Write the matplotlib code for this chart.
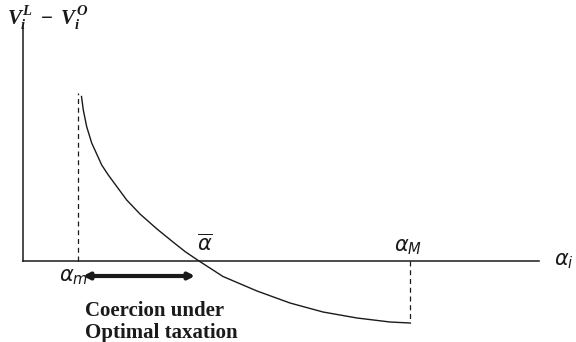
import matplotlib
matplotlib.use("Agg")
import matplotlib.pyplot as plt

# utility difference V_i^L - V_i^O against alpha_i
alpha = [0.585, 0.603, 0.637, 0.687, 0.787, 0.853, 1.037, 1.17, 1.34, 1.50,
         1.62, 1.76, 2.00, 2.34, 2.67, 3.00, 3.34, 3.67, 3.87]
dv = [1.645, 1.51, 1.343, 1.18, 0.96, 0.86, 0.61, 0.47, 0.32, 0.19,
      0.095, 0.0, -0.155, -0.30, -0.42, -0.51, -0.57, -0.61, -0.62]
alpha_m = 0.55
alpha_bar = 1.76
alpha_M = 3.87
dv_top = 1.68

ink = "#1a1a1a"
plt.rcParams["mathtext.fontset"] = "custom"
plt.rcParams["mathtext.it"] = "Liberation Serif:italic:bold"
plt.rcParams["mathtext.rm"] = "Liberation Serif:bold"

fig = plt.figure(figsize=(5.76, 3.42), dpi=100)
ax = fig.add_axes([0, 0, 1, 1])
ax.set_xlim(-0.23, 5.53)
ax.set_ylim(-0.81, 2.61)
ax.axis("off")

# axes drawn by hand
ax.plot([0, 5.16], [0, 0], color=ink, lw=1.1)
ax.plot([0, 0], [0, 2.34], color=ink, lw=1.1)

ax.plot(alpha, dv, color=ink, lw=1.0, solid_joinstyle="round")
ax.plot([alpha_m, alpha_m], [0, dv_top], color=ink, lw=0.9, ls=(0, (4, 3)))
ax.plot([alpha_M, alpha_M], [0, dv[-1]], color=ink, lw=0.9, ls=(0, (4, 3)))

ax.annotate("", xy=(0.60, -0.15), xytext=(alpha_bar - 0.04, -0.15),
            arrowprops=dict(arrowstyle="<|-|>,head_length=0.35,head_width=0.18",
                            color=ink, lw=3, shrinkA=0, shrinkB=0))

ax.text(-0.16, 2.56, r"$V_i^L\ -\ V_i^O$", fontsize=15, color=ink,
        ha="left", va="top", math_fontfamily="custom")
ax.text(5.41, 0, r"$\alpha_i$", fontsize=15, color=ink, ha="center",
        va="center", math_fontfamily="dejavusans")
ax.text(alpha_M - 0.02, 0.04, r"$\alpha_{M}$", fontsize=15, color=ink,
        ha="center", va="bottom", math_fontfamily="dejavusans")
ax.text(alpha_m - 0.04, -0.06, r"$\alpha_{m}$", fontsize=15, color=ink,
        ha="center", va="top", math_fontfamily="dejavusans")
ax.text(alpha_bar + 0.06, 0.06, r"$\overline{\alpha}$", fontsize=15, color=ink,
        ha="center", va="bottom", math_fontfamily="dejavusans")
ax.text(0.62, -0.40, "Coercion under\nOptimal taxation", fontsize=15,
        family="Liberation Serif", weight="bold", color=ink, ha="left",
        va="top", linespacing=1.15)

fig.savefig("out.png", dpi=100)
